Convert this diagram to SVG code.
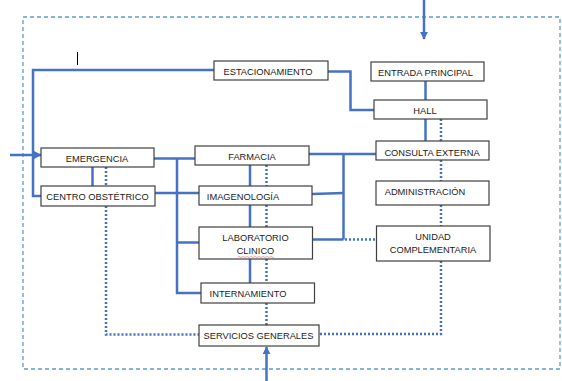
<svg xmlns="http://www.w3.org/2000/svg" width="562" height="381" viewBox="0 0 562 381">
  <style>
    .box rect { fill: #ffffff; stroke: #404040; stroke-width: 1.2; }
    .box text { font-family: "Liberation Sans", Arial, sans-serif; font-size: 9.3px; fill: #1a1a1a; text-anchor: middle; }
    .solid { fill: none; stroke: #4472C4; stroke-width: 2.5; }
    .dot { fill: none; stroke: #4472C4; stroke-width: 2.5; stroke-dasharray: 2 2; }
    .frame { fill: none; stroke: #5B9BD5; stroke-width: 1.3; stroke-dasharray: 4 3; }
  </style>
  <defs>
    <marker id="arrow" viewBox="0 0 10 10" refX="9" refY="5" markerWidth="3.2" markerHeight="3.2" orient="auto" markerUnits="strokeWidth">
      <path d="M0,0 L10,5 L0,10 z" fill="#4472C4"/>
    </marker>
  </defs>

  <rect width="562" height="381" fill="#ffffff"/>

  <!-- site boundary -->
  <rect class="frame" x="23" y="17" width="537" height="352"/>

  <!-- stray cursor mark -->
  <line x1="77.5" y1="52" x2="77.5" y2="65" stroke="#000000" stroke-width="1"/>

  <g id="connectors">
    <!-- access arrows -->
    <line class="solid" x1="424" y1="0" x2="424" y2="39" marker-end="url(#arrow)"/>
    <line class="solid" x1="10" y1="155" x2="41" y2="155" marker-end="url(#arrow)"/>
    <line class="solid" x1="266.5" y1="381" x2="266.5" y2="347" marker-end="url(#arrow)"/>

    <!-- estacionamiento to west side -->
    <polyline class="solid" points="214,70 33,70 33,196 41,196"/>
    <!-- estacionamiento to hall -->
    <polyline class="solid" points="328,71.5 350.5,71.5 350.5,110 374,110"/>
    <!-- entrada / hall / consulta -->
    <line class="solid" x1="425.5" y1="81" x2="425.5" y2="100"/>
    <line class="solid" x1="425.5" y1="119" x2="425.5" y2="141"/>
    <line class="dot" x1="441" y1="119" x2="441" y2="141"/>
    <line class="dot" x1="441" y1="160" x2="441" y2="181"/>
    <line class="dot" x1="441" y1="205" x2="441" y2="226"/>
    <polyline class="dot" points="441,261 441,334 319,334"/>

    <!-- emergencia / centro obstetrico -->
    <line class="solid" x1="92.5" y1="167" x2="92.5" y2="186"/>
    <line class="dot" x1="106" y1="167" x2="106" y2="186"/>
    <polyline class="dot" points="106,206 106,334.5 199,334.5"/>

    <!-- west trunk -->
    <line class="solid" x1="154" y1="158.5" x2="195" y2="158.5"/>
    <line class="solid" x1="155" y1="193" x2="199" y2="193"/>
    <polyline class="solid" points="177,158.5 177,293 201,293"/>
    <line class="solid" x1="177" y1="242.5" x2="199" y2="242.5"/>

    <!-- central column -->
    <line class="solid" x1="250" y1="165" x2="250" y2="186"/>
    <line class="dot" x1="266.5" y1="165" x2="266.5" y2="186"/>
    <line class="solid" x1="250" y1="205" x2="250" y2="227"/>
    <line class="dot" x1="266.5" y1="205" x2="266.5" y2="227"/>
    <line class="solid" x1="250" y1="259" x2="250" y2="283"/>
    <line class="dot" x1="266.5" y1="259" x2="266.5" y2="283"/>
    <line class="dot" x1="266.5" y1="303" x2="266.5" y2="325"/>

    <!-- east trunk -->
    <line class="solid" x1="309" y1="154" x2="376" y2="154"/>
    <line class="solid" x1="343.5" y1="154" x2="343.5" y2="239.5"/>
    <line class="solid" x1="312" y1="194" x2="343.5" y2="193"/>
    <line class="solid" x1="312.5" y1="239.5" x2="343.5" y2="239.5"/>
    <line class="dot" x1="345" y1="239.5" x2="376.5" y2="239.5"/>
  </g>

  <g id="estacionamiento" class="box">
    <rect x="214" y="61" width="114" height="19"/>
    <text x="268" y="75">ESTACIONAMIENTO</text>
  </g>
  <g id="entrada-principal" class="box">
    <rect x="371" y="62" width="113" height="19"/>
    <text x="425.5" y="76">ENTRADA PRINCIPAL</text>
  </g>
  <g id="hall" class="box">
    <rect x="374" y="100" width="113" height="19"/>
    <text x="425" y="114">HALL</text>
  </g>
  <g id="consulta-externa" class="box">
    <rect x="376" y="141" width="113" height="19"/>
    <text x="432" y="156">CONSULTA EXTERNA</text>
  </g>
  <g id="administracion" class="box">
    <rect x="376" y="181" width="113" height="24"/>
    <text x="425" y="195">ADMINISTRACIÓN</text>
  </g>
  <g id="unidad-complementaria" class="box">
    <rect x="376.5" y="226" width="113.5" height="35"/>
    <text x="433" y="240">UNIDAD</text>
    <text x="433" y="253">COMPLEMENTARIA</text>
  </g>
  <g id="emergencia" class="box">
    <rect x="41" y="148" width="113" height="19"/>
    <text x="97" y="162">EMERGENCIA</text>
  </g>
  <g id="centro-obstetrico" class="box">
    <rect x="41" y="186" width="114" height="20"/>
    <text x="97.5" y="199.5">CENTRO OBSTÉTRICO</text>
  </g>
  <g id="farmacia" class="box">
    <rect x="195" y="146" width="114" height="19"/>
    <text x="252" y="159.5">FARMACIA</text>
  </g>
  <g id="imagenologia" class="box">
    <rect x="199" y="186" width="113" height="19"/>
    <text x="243" y="200">IMAGENOLOGÍA</text>
  </g>
  <g id="laboratorio-clinico" class="box">
    <rect x="199" y="227" width="113.5" height="32"/>
    <text x="255.5" y="241">LABORATORIO</text>
    <text x="255.5" y="254">CLINICO</text>
    <path d="M238,257 q1,-1 2,0 t2,0 t2,0 t2,0 t2,0 t2,0 t2,0 t2,0 t2,0 t2,0 t2,0 t2,0 t2,0 t2,0 t2,0 t2,0 t2,0 t2,0" fill="none" stroke="#E06060" stroke-width="0.6"/>
  </g>
  <g id="internamiento" class="box">
    <rect x="201" y="283" width="113.5" height="20"/>
    <text x="248" y="297">INTERNAMIENTO</text>
  </g>
  <g id="servicios-generales" class="box">
    <rect x="199" y="325" width="120" height="21"/>
    <text x="258.5" y="339">SERVICIOS GENERALES</text>
  </g>
</svg>
